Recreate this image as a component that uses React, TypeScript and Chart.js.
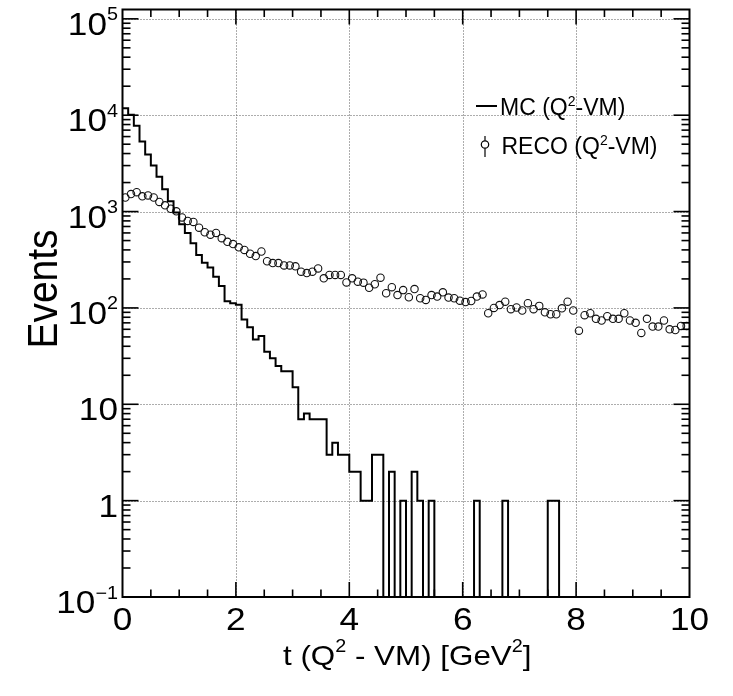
import React, { useEffect, useRef } from "react";
import { Chart, registerables } from "chart.js";

Chart.register(...registerables);

// ---------------- data ----------------
const BIN_WIDTH = 0.1;
const X_MIN = 0;
const X_MAX = 10;
const Y_MIN = 0.1;
const Y_MAX = 125000;

// MC (Q2-VM) histogram counts, 100 bins of 0.1 GeV^2 from 0 to 10
const mcCounts = [
  11800, 10100, 7760, 5320, 3900, 3000, 2300, 1700, 1280, 980,
  740, 600, 470, 354, 295, 263, 211, 169, 117, 112,
  108, 76, 63, 47, 51, 35, 30, 25, 22, 22,
  15, 7, 8, 7, 7, 7, 3, 4, 3, 3,
  2, 2, 1, 1, 3, 3, 0, 2, 0, 1,
  0, 2, 1, 0, 1, 0, 0, 0, 0, 0,
  0, 0, 1, 0, 0, 0, 0, 1, 0, 0,
  0, 0, 0, 0, 0, 1, 1, 0, 0, 0,
  0, 0, 0, 0, 0, 0, 0, 0, 0, 0,
  0, 0, 0, 0, 0, 0, 0, 0, 0, 0,
];

// RECO (Q2-VM) counts, same binning (drawn at bin centres)
const recoCounts = [
  1400, 1520, 1590, 1440, 1470, 1400, 1260, 1160, 1070, 1005,
  870, 800, 780, 680, 610, 575, 600, 530, 485, 460,
  425, 400, 365, 345, 385, 305, 292, 292, 276, 276,
  270, 238, 230, 238, 257, 203, 220, 220, 220, 184,
  203, 187, 183, 162, 176, 206, 142, 164, 136, 153,
  129, 157, 126, 121, 136, 131, 145, 128, 126, 119,
  115, 118, 131, 138, 88, 100, 107, 116, 97, 101,
  94, 112, 97, 105, 90, 86, 86, 99, 116, 94,
  58, 84, 88, 77, 74, 82, 77, 77, 88, 74,
  70, 55, 77, 64, 64, 74, 60, 59, 65, 65,
];

const xTickValues = [0, 2, 4, 6, 8, 10];
const xTickLabels = ["0", "2", "4", "6", "8", "10"];
const xMinorStep = 0.5;
const xGridValues = [2, 4, 6, 8];

const yTickExponents = [-1, 0, 1, 2, 3, 4, 5];
const yTickBases = ["10", "1", "10", "10", "10", "10", "10"];
const yTickSups = ["\u22121", "", "", "2", "3", "4", "5"];
const yGridExponents = [0, 1, 2, 3, 4, 5];

const seriesLabels = ["MC", "RECO"];

// ---------------- text helpers ----------------
const SX = 1.1;
const FAMILY = '"Liberation Sans", Arial, Helvetica, sans-serif';
const fnt = (s: number) => `${s}px ${FAMILY}`;

type Part = { t: string; sup?: boolean };

function drawParts(
  ctx: CanvasRenderingContext2D,
  parts: Part[],
  x: number,
  y: number,
  size: number,
  supSize: number,
  supRise: number,
  align: "left" | "right" | "center",
  rotate = false,
  sx = SX
) {
  ctx.save();
  ctx.translate(x, y);
  if (rotate) {
    ctx.rotate(-Math.PI / 2);
    ctx.scale(1, sx);
  } else {
    ctx.scale(sx, 1);
  }
  ctx.textBaseline = "alphabetic";
  ctx.textAlign = "left";
  ctx.fillStyle = "#000";
  let w = 0;
  for (const p of parts) {
    ctx.font = fnt(p.sup ? supSize : size);
    w += ctx.measureText(p.t).width;
  }
  let cx = align === "right" ? -w : align === "center" ? -w / 2 : 0;
  for (const p of parts) {
    ctx.font = fnt(p.sup ? supSize : size);
    ctx.fillText(p.t, cx, p.sup ? -supRise : 0);
    cx += ctx.measureText(p.t).width;
  }
  ctx.restore();
}

function seg(ctx: CanvasRenderingContext2D, x1: number, y1: number, x2: number, y2: number) {
  ctx.beginPath();
  ctx.moveTo(x1, y1);
  ctx.lineTo(x2, y2);
  ctx.stroke();
}

// ---------------- ROOT-like frame plugin ----------------
const rootStyle = {
  id: "rootStyle",
  beforeDatasetsDraw(chart: any) {
    const { ctx, chartArea: a, scales } = chart;
    const x = scales.x;
    const y = scales.y;
    ctx.save();
    ctx.strokeStyle = "#5a5a5a";
    ctx.lineWidth = 1;
    ctx.setLineDash([1, 2]);
    for (const v of xGridValues) {
      const px = Math.round(x.getPixelForValue(v)) + 0.5;
      seg(ctx, px, a.top, px, a.bottom);
    }
    for (const e of yGridExponents) {
      const py = Math.round(y.getPixelForValue(Math.pow(10, e))) + 0.5;
      seg(ctx, a.left, py, a.right, py);
    }
    ctx.restore();
  },
  afterDatasetsDraw(chart: any) {
    const { ctx, chartArea: a, scales } = chart;
    const x = scales.x;
    const y = scales.y;
    ctx.save();
    ctx.strokeStyle = "#000";
    ctx.setLineDash([]);

    // ticks (inside, on all four sides)
    ctx.lineWidth = 1.6;
    for (let v = X_MIN + xMinorStep; v < X_MAX - 1e-9; v += xMinorStep) {
      const major = xTickValues.some((t) => Math.abs(t - v) < 1e-9);
      const len = major ? 15 : 7.5;
      const px = x.getPixelForValue(v);
      seg(ctx, px, a.bottom, px, a.bottom - len);
      seg(ctx, px, a.top, px, a.top + len);
    }
    for (const e of yTickExponents) {
      for (let m = 1; m <= 9; m++) {
        const val = m * Math.pow(10, e);
        if (val <= Y_MIN * 1.0001 || val >= Y_MAX) continue;
        const len = m === 1 ? 16 : 8;
        const py = y.getPixelForValue(val);
        seg(ctx, a.left, py, a.left + len, py);
        seg(ctx, a.right, py, a.right - len, py);
      }
    }

    // frame
    ctx.lineWidth = 2;
    ctx.strokeRect(a.left, a.top, a.right - a.left, a.bottom - a.top);

    // x tick labels
    xTickValues.forEach((v, i) => {
      drawParts(ctx, [{ t: xTickLabels[i] }], x.getPixelForValue(v), a.bottom + 33, 32, 18, 0, "center");
    });

    // y tick labels
    yTickExponents.forEach((e, i) => {
      const py = y.getPixelForValue(Math.pow(10, e));
      const parts: Part[] = [{ t: yTickBases[i] }];
      if (yTickSups[i]) parts.push({ t: yTickSups[i], sup: true });
      drawParts(ctx, parts, a.left - 4.5, py + 16, 32, 18, 14.5, "right");
    });

    // axis titles
    drawParts(
      ctx,
      [{ t: "t (Q" }, { t: "2", sup: true }, { t: " - VM) [GeV" }, { t: "2", sup: true }, { t: "]" }],
      283,
      665,
      28.5,
      18,
      13,
      "left"
    );
    drawParts(ctx, [{ t: "Events" }], 57, 289, 39, 20, 0, "center", true);

    // legend
    ctx.lineWidth = 2;
    seg(ctx, 476, 106, 497, 106);
    drawParts(ctx, [{ t: seriesLabels[0] + " (Q" }, { t: "2", sup: true }, { t: "-VM)" }], 500, 115, 23, 14, 9.5, "left", false, 1);

    ctx.lineWidth = 1.2;
    const cxm = 485;
    const cym = 144.5;
    const r = 3.7;
    ctx.beginPath();
    ctx.arc(cxm, cym, r, 0, Math.PI * 2);
    ctx.stroke();
    seg(ctx, cxm, 136, cxm, cym - r);
    seg(ctx, cxm, cym + r, cxm, 157);
    drawParts(ctx, [{ t: seriesLabels[1] + " (Q" }, { t: "2", sup: true }, { t: "-VM)" }], 501.5, 154, 23, 14, 9.5, "left", false, 1);

    ctx.restore();
  },
};

export default function App() {
  const ref = useRef<HTMLCanvasElement | null>(null);

  useEffect(() => {
    if (!ref.current) return;
    const edges = mcCounts.map((_, i) => X_MIN + i * BIN_WIDTH);
    const mcData = edges.map((e, i) => ({ x: e, y: mcCounts[i] > 0 ? mcCounts[i] : Y_MIN }));
    const last = mcCounts[mcCounts.length - 1];
    mcData.push({ x: X_MAX, y: last > 0 ? last : Y_MIN });
    const recoData = recoCounts.map((v, i) => ({ x: edges[i] + BIN_WIDTH / 2, y: v }));

    const chart = new Chart(ref.current, {
      type: "line",
      data: {
        datasets: [
          {
            label: seriesLabels[0],
            data: mcData,
            stepped: "before",
            borderColor: "#000",
            borderWidth: 2,
            pointRadius: 0,
            fill: false,
          },
          {
            label: seriesLabels[1],
            data: recoData,
            showLine: false,
            pointStyle: "circle",
            pointRadius: 3.7,
            pointBorderWidth: 1.1,
            pointBorderColor: "#111",
            pointBackgroundColor: "rgba(0,0,0,0)",
            borderColor: "#111",
          },
        ],
      },
      options: {
        responsive: false,
        animation: false,
        devicePixelRatio: 1,
        layout: { padding: { left: 0, right: 43.5, top: 9.5, bottom: 0 } },
        plugins: { legend: { display: false }, tooltip: { enabled: false } },
        scales: {
          x: {
            type: "linear",
            min: X_MIN,
            max: X_MAX,
            ticks: { display: false },
            grid: { display: false },
            border: { display: false },
            afterFit: (s: any) => {
              s.height = 99;
            },
          },
          y: {
            type: "logarithmic",
            min: Y_MIN,
            max: Y_MAX,
            ticks: { display: false },
            grid: { display: false },
            border: { display: false },
            afterFit: (s: any) => {
              s.width = 122.5;
            },
          },
        },
      },
      plugins: [rootStyle],
    } as any);
    return () => chart.destroy();
  }, []);

  return (
    <div style={{ position: "fixed", left: 0, top: 0, width: 733, height: 696, background: "#fff" }}>
      <canvas ref={ref} width={733} height={696} style={{ display: "block" }} />
    </div>
  );
}
